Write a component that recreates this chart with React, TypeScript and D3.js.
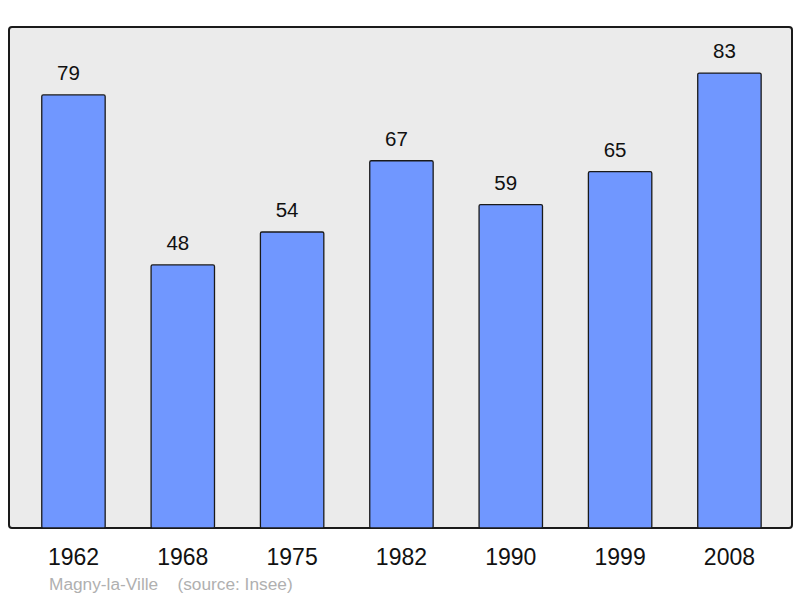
import React from "react";
import * as d3 from "d3";

const years = ["1962", "1968", "1975", "1982", "1990", "1999", "2008"];
const population = [79, 48, 54, 67, 59, 65, 83];
const caption = "Magny-la-Ville    (source: Insee)";

const W = 800;
const H = 598;
const panel = { x0: 9, y0: 27, x1: 792, y1: 528 };

export default function App() {
  const x = d3
    .scaleBand<string>()
    .domain(years)
    .range([18.8, 784.1])
    .paddingInner(0.42)
    .paddingOuter(0.21);
  const y = d3.scaleLinear().domain([0, 91.4]).range([panel.y1, panel.y0]);

  return (
    <svg
      width={W}
      height={H}
      style={{ position: "absolute", left: 0, top: 0, fontFamily: "'Liberation Sans', Arial, sans-serif" }}
    >
      <rect x={0} y={0} width={W} height={H} fill="#ffffff" />
      <rect
        x={panel.x0}
        y={panel.y0}
        width={panel.x1 - panel.x0}
        height={panel.y1 - panel.y0}
        rx={3}
        fill="#ebebeb"
        stroke="#1a1a1a"
        strokeWidth={2}
      />
      {years.map((yr, i) => {
        const v = population[i];
        const bx = x(yr) as number;
        const bw = x.bandwidth();
        return (
          <g key={yr}>
            <rect
              x={bx}
              y={y(v)}
              width={bw}
              height={panel.y1 - y(v)}
              rx={1.5}
              fill="#7097ff"
              stroke="#1a1a1a"
              strokeWidth={1.3}
            />
            <text x={bx + bw / 2 - 5} y={y(v) - 15} textAnchor="middle" fontSize={20.5} fill="#111">
              {v}
            </text>
            <text x={bx + bw / 2} y={565} textAnchor="middle" fontSize={23} fill="#111">
              {yr}
            </text>
          </g>
        );
      })}
      <text x={49} y={590} fontSize={17.3} fill="#b0b0b0" style={{ whiteSpace: "pre" }}>
        {caption}
      </text>
    </svg>
  );
}
